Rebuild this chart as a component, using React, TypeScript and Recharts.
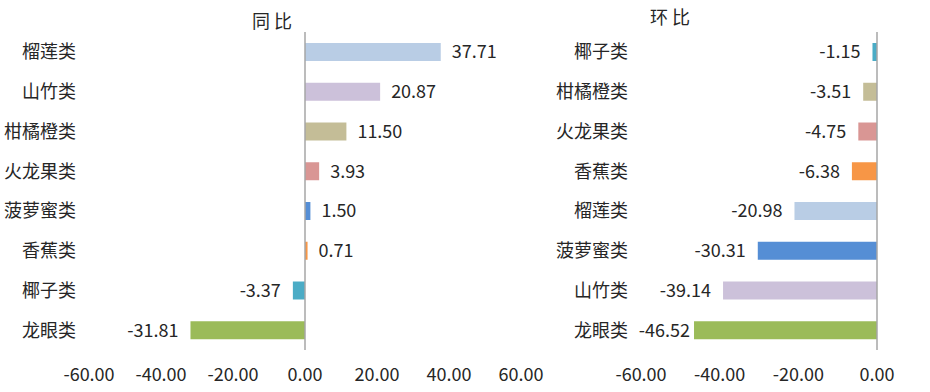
import React from "react";
import { BarChart, Bar, XAxis, YAxis, Cell, LabelList, ReferenceLine } from "recharts";

const yoyCategories = ["榴莲类", "山竹类", "柑橘橙类", "火龙果类", "菠萝蜜类", "香蕉类", "椰子类", "龙眼类"];
const yoyValues = [37.71, 20.87, 11.5, 3.93, 1.5, 0.71, -3.37, -31.81];
const momCategories = ["椰子类", "柑橘橙类", "火龙果类", "香蕉类", "榴莲类", "菠萝蜜类", "山竹类", "龙眼类"];
const momValues = [-1.15, -3.51, -4.75, -6.38, -20.98, -30.31, -39.14, -46.52];
const yoyTicks = [-60, -40, -20, 0, 20, 40, 60];
const momTicks = [-60, -40, -20, 0];

const categoryColors: Record<string, string> = {
  榴莲类: "#B9CDE5",
  山竹类: "#CCC1DA",
  柑橘橙类: "#C4BD97",
  火龙果类: "#D99694",
  菠萝蜜类: "#558ED5",
  香蕉类: "#F79646",
  椰子类: "#4BACC6",
  龙眼类: "#9BBB59",
};

const FONT = "'Noto Sans CJK SC', 'Noto Sans', sans-serif";
const TEXT = "#262626";

const yoyData = yoyCategories.map((name, i) => ({ name, value: yoyValues[i] }));
const momData = momCategories.map((name, i) => ({ name, value: momValues[i] }));

const makeLabel = (plotLeft: number) => (props: any) => {
  const { x, y, width, height, value } = props;
  const left = Math.min(x, x + width);
  const right = Math.max(x, x + width);
  const cy = y + height / 2;
  const txt = Number(value).toFixed(2);
  if (value >= 0) {
    return (
      <text x={right + 11} y={cy} dy="0.35em" textAnchor="start" fontSize={18} fill={TEXT} fontFamily={FONT}>
        {txt}
      </text>
    );
  }
  const estW = txt.length * 9;
  const end = Math.max(left - 12, plotLeft - 5 + estW);
  return (
    <text x={end} y={cy} dy="0.35em" textAnchor="end" fontSize={18} fill={TEXT} fontFamily={FONT}>
      {txt}
    </text>
  );
};

const tickStyle = { fontSize: 18, fill: TEXT, fontFamily: FONT };

function Panel(props: {
  data: { name: string; value: number }[];
  width: number;
  yWidth: number;
  marginRight: number;
  domain: [number, number];
  ticks: number[];
}) {
  const { data, width, yWidth, marginRight, domain, ticks } = props;
  return (
    <BarChart
      width={width}
      height={392}
      data={data}
      layout="vertical"
      margin={{ top: 32, right: marginRight, bottom: 0, left: 0 }}
      barCategoryGap="0%"
    >
      <XAxis
        type="number"
        domain={domain}
        ticks={ticks}
        allowDataOverflow
        axisLine={false}
        tickLine={false}
        tickMargin={12}
        height={42}
        interval={0}
        tick={tickStyle}
        tickFormatter={(v: number) => v.toFixed(2)}
      />
      <YAxis
        type="category"
        dataKey="name"
        width={yWidth}
        axisLine={false}
        tickLine={false}
        tickMargin={7}
        interval={0}
        tick={tickStyle}
      />
      <Bar dataKey="value" barSize={18} isAnimationActive={false}>
        {data.map((d) => (
          <Cell key={d.name} fill={categoryColors[d.name]} />
        ))}
        <LabelList dataKey="value" content={makeLabel(yWidth)} />
      </Bar>
      <ReferenceLine x={0} stroke="#A6A6A6" strokeWidth={1.5} />
    </BarChart>
  );
}

export default function App() {
  return (
    <div style={{ position: "absolute", left: 0, top: 0, width: 930, height: 392, background: "#fff", fontFamily: FONT }}>
      <div style={{ position: "absolute", left: 0, top: 0 }}>
        <Panel data={yoyData} width={560} yWidth={89} marginRight={39} domain={[-60, 60]} ticks={yoyTicks} />
      </div>
      <div style={{ position: "absolute", left: 540, top: 0 }}>
        <Panel data={momData} width={390} yWidth={101} marginRight={53} domain={[-60, 0]} ticks={momTicks} />
      </div>
      <div style={{ position: "absolute", left: 232, top: 6, width: 80, textAlign: "center", fontSize: 18, color: TEXT, lineHeight: "28px", whiteSpace: "pre" }}>
        同 比
      </div>
      <div style={{ position: "absolute", left: 630, top: 2, width: 80, textAlign: "center", fontSize: 18, color: TEXT, lineHeight: "28px", whiteSpace: "pre" }}>
        环 比
      </div>
    </div>
  );
}
